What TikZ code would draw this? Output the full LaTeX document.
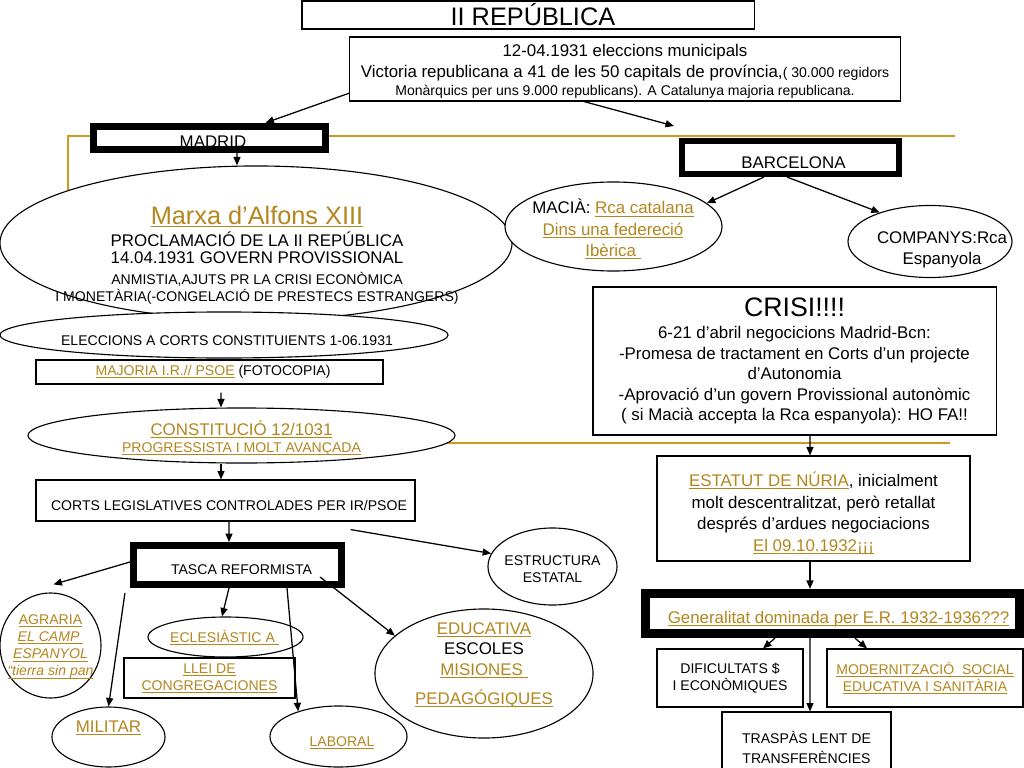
\documentclass[tikz,border=0pt]{standalone}
\usepackage{fontspec}
\setmainfont{Liberation Sans}
\usepackage{xcolor}
\usepackage{tikz}
\usetikzlibrary{shapes.geometric, arrows.meta, calc, backgrounds}

\definecolor{goldtext}{RGB}{180,134,30}
\definecolor{goldrule}{RGB}{206,156,28}
\newsavebox{\ulbox}
\newcommand{\gl}[1]{\textcolor{goldtext}{\sbox{\ulbox}{#1}\rlap{\rule[-1.8pt]{\wd\ulbox}{0.7pt}}\usebox{\ulbox}}}
\lineskiplimit=-1cm

\begin{document}
\begin{tikzpicture}[
    x=0.025cm, y=-0.025cm,
    box/.style={draw, rectangle, fill=white, line width=0.8pt, align=center, inner sep=0pt},
    thickbox/.style={box, line width=5pt},
    oval/.style={draw, ellipse, fill=white, line width=0.8pt, inner sep=0pt},
    txt/.style={align=center, inner sep=0pt},
    f10/.style={font=\fontsize{10}{12.1}\selectfont},
    f12/.style={font=\fontsize{12}{15}\selectfont},
    arrow/.style={line width=0.9pt, -{Triangle[length=6pt, width=5pt]}},
    goldline/.style={line width=1.8pt, draw=goldrule}
]
\useasboundingbox (0,0) rectangle (1024,768);
\clip (0,0) rectangle (1024,768);

% top
\node[box, minimum width=11.3cm, minimum height=0.7cm, font=\fontsize{18}{22}\selectfont] (republica) at (528,15) {\hspace*{7pt}II REPÚBLICA};
\node[box, minimum width=13.75cm, minimum height=1.6cm, font=\fontsize{12}{14.6}\selectfont] (municipals) at (625,69)
  {\rule{0pt}{12pt}12-04.1931 eleccions municipals\\
   Victoria republicana a 41 de les 50 capitals de província,{\fontsize{10}{12}\selectfont( 30.000 regidors}\\[-1.8pt]
   {\fontsize{10}{11}\selectfont Monàrquics per uns 9.000 republicans). A Catalunya majoria republicana.}};

% Madrid
\node[thickbox, minimum width=5.8cm, minimum height=0.575cm, line width=5.2pt] (madrid) at (209.5,138) {};
\node[txt, f12] (madrid_text) at (213,141.5) {MADRID};
\node[oval, minimum width=12.8cm, minimum height=3.85cm] (marxa) at (256,243) {};
\node[txt, font=\fontsize{12}{12.1}\selectfont] (marxa_text) at (257,255)
  {{\fontsize{18}{18}\selectfont\gl{Marxa d’Alfons XIII}}\\[3.5pt]
   PROCLAMACIÓ DE LA II REPÚBLICA\\
   14.04.1931 GOVERN PROVISSIONAL\\[2.8pt]
   {\fontsize{10}{12}\selectfont ANMISTIA,AJUTS PR LA CRISI ECONÒMICA}\\
   {\fontsize{10}{12}\selectfont I MONETÀRIA(-CONGELACIÓ DE PRESTECS ESTRANGERS)}};
\node[oval, minimum width=11.2cm, minimum height=1.15cm] (constituents) at (224,335) {};
\node[txt, f10] (constituents_text) at (227,341) {ELECCIONS A CORTS CONSTITUIENTS 1-06.1931};
\node[box, minimum width=8.675cm, minimum height=0.6cm, f10] (majoria) at (209.5,372) {\hspace*{5pt}\gl{MAJORIA I.R.// PSOE} (FOTOCOPIA)};
\node[oval, minimum width=10.675cm, minimum height=1.375cm] (constitucio) at (241.5,435.5) {};
\node[txt, f10] (constitucio_text) at (241.5,438)
  {{\fontsize{12}{12}\selectfont\gl{CONSTITUCIÓ 12/1031}}\\
   \gl{PROGRESSISTA I MOLT AVANÇADA}};
\node[box, minimum width=9.475cm, minimum height=1.025cm] (corts) at (225.5,500.5) {};
\node[txt, f10] (corts_text) at (229,505.5) {CORTS LEGISLATIVES CONTROLADES PER IR/PSOE};
\node[thickbox, minimum width=5.2cm, minimum height=0.975cm] (tasca) at (237.5,565) {};
\node[txt, f10] (tasca_text) at (241.5,570) {TASCA REFORMISTA};
\node[oval, minimum width=3.225cm, minimum height=1.925cm] (estructura) at (552.5,566.5) {};
\node[txt, f10] (estructura_text) at (552.5,569) {ESTRUCTURA\\ESTATAL};

% reformes
\node[oval, minimum width=2.525cm, minimum height=2.625cm] (agraria) at (50.5,645.5) {};
\node[txt, f10] (agraria_text) at (50.5,647)
  {\gl{AGRARIA}\\ \gl{\itshape EL CAMP }\\ \gl{\itshape ESPANYOL}\\ \gl{\itshape “tierra sin pan}};
\node[oval, minimum width=2.825cm, minimum height=1.5cm] (militar) at (108.5,737) {};
\node[txt, f12] (militar_text) at (108.5,728) {\gl{MILITAR}};
\node[oval, minimum width=3.875cm, minimum height=1cm] (eclesiastic) at (225.5,637) {};
\node[txt, f10] (eclesiastic_text) at (224.5,638) {\gl{ECLESIÀSTIC A\ }};
\node[box, minimum width=4.275cm, minimum height=1cm, f10] (llei) at (209.5,678) {\gl{LLEI DE}\\ \gl{CONGREGACIONES}};
\node[oval, minimum width=3.425cm, minimum height=1.525cm] (laboral) at (338.5,736.5) {};
\node[txt, f10] (laboral_text) at (342,743) {\gl{LABORAL}};
\node[oval, minimum width=5.45cm, minimum height=3.225cm] (educativa) at (484,673.5) {};
\node[txt, font=\fontsize{12}{14.5}\selectfont] (educativa_text) at (484,665)
  {\gl{EDUCATIVA}\\ ESCOLES\\ \gl{MISIONES\ }\\[6pt] \gl{PEDAGÓGIQUES}};

% Barcelona
\node[thickbox, minimum width=5.425cm, minimum height=0.825cm, line width=4.3pt] (barcelona) at (790.5,157.5) {};
\node[txt, f12] (barcelona_text) at (793.5,162.5) {BARCELONA};
\node[oval, minimum width=5.425cm, minimum height=2.225cm] (macia) at (613.5,226.5) {};
\node[txt, f12] (macia_text) at (613,229) {MACIÀ: \gl{Rca catalana}\\ \gl{Dins una federeció}\\ \gl{Ibèrica\ }};
\node[oval, minimum width=4.1cm, minimum height=1.8cm] (companys) at (930,241.5) {};
\node[txt, f12] (companys_text) at (942,250) {COMPANYS:Rca\\ Espanyola};
\node[box, minimum width=10.075cm, minimum height=3.7cm, font=\fontsize{12}{14.6}\selectfont] (crisi) at (794.5,361)
  {{\fontsize{19}{19}\selectfont CRISI!!!!}\\[1.5pt]
   6-21 d’abril negocicions Madrid-Bcn:\\
   -Promesa de tractament en Corts d’un projecte\\
   d’Autonomia\\
   -Aprovació d’un govern Provissional autonòmic\\
   ( si Macià accepta la Rca espanyola): HO FA!!};
\node[box, minimum width=7.825cm, minimum height=2.625cm, font=\fontsize{12}{15.3}\selectfont] (estatut) at (813.5,508.5)
  {\rule{0pt}{17pt}\gl{ESTATUT DE NÚRIA}, inicialment\\
   molt descentralitzat, però retallat\\
   després d’ardues negociacions\\
   \gl{El 09.10.1932¡¡¡}};
\node[thickbox, minimum width=9.35cm, minimum height=1cm, line width=6.6pt] (generalitat) at (832.5,613.5) {};
\node[txt, f12] (generalitat_text) at (838.5,619) {\gl{Generalitat dominada per E.R. 1932-1936???}};
\node[box, minimum width=3.65cm, minimum height=1.45cm, f10] (dificultats) at (730,678) {DIFICULTATS \$\\ I ECONÒMIQUES};
\node[box, minimum width=4.9cm, minimum height=1.45cm, f10] (modernitzacio) at (925,678) {\gl{MODERNITZACIÓ\ \ SOCIAL}\\ \gl{EDUCATIVA I SANITÀRIA}};
\node[box, minimum width=4.225cm, minimum height=1.75cm, font=\fontsize{10}{14.2}\selectfont] (traspas) at (806.5,747) {TRASPÀS LENT DE\\ TRANSFERÈNCIES};

% gold frame lines
\coordinate (gold_corner) at (68,136);
\coordinate (gold_end) at (955,136);
\coordinate (gold_end2) at (950,443);
\begin{pgfonlayer}{background}
  \draw[goldline] (gold_corner |- marxa.center) -- (gold_corner) -- (gold_end);
  \draw[goldline] (constitucio.center |- gold_end2) -- (gold_end2);
\end{pgfonlayer}

% arrows
\draw[arrow] (municipals.185) -- ($(madrid.north)+(56,0)$);
\draw[arrow] ($(municipals.south)+(-41,0)$) -- ($(barcelona.north west)+(-5,-12)$);
\draw[arrow] ($(madrid.south)+(27.5,0)$) -- ($(marxa.north)+(-19,0)$);
\draw[arrow] ($(barcelona.south)+(-26.5,0)$) -- (macia.14);
\draw[arrow] ($(barcelona.south)+(-3.5,0)$) -- (companys.150);
\draw[arrow] ($(crisi.south)+(15.5,0)$) -- ($(estatut.north)+(-3.5,0)$);
\draw[arrow] ($(estatut.south)+(-3.5,0)$) -- ($(generalitat.north)+(-22.5,0)$);
\draw[arrow] ($(generalitat.south)+(-57.5,0)$) -- ($(dificultats.north)+(33,0)$);
\draw[arrow] ($(generalitat.south)+(-22.5,0)$) -- ($(traspas.north)+(3.5,0)$);
\draw[arrow] ($(generalitat.south)+(22.5,0)$) -- ($(modernitzacio.north)+(-58,0)$);
\draw[arrow] ($(majoria.south)+(11.5,8)$) -- ($(constitucio.north)+(-20.5,0)$);
\draw[arrow] ($(constitucio.south)+(-20.5,0)$) -- ($(corts.north)+(-4.5,0)$);
\draw[arrow] ($(corts.south)+(3.5,0)$) -- ($(tasca.north)+(-8.5,0)$);
\draw[arrow] ($(corts.south east)+(-65,8)$) -- (estructura.168);
\draw[arrow] ($(tasca.west)+(0,-3)$) -- ($(agraria.north)+(3,-8)$);
\draw[arrow] ($(tasca.south west)+(-5,5)$) -- (militar.north);
\draw[arrow] ($(tasca.south)+(-8.5,0)$) -- ($(eclesiastic.north)+(-3.5,0)$);
\draw[arrow] ($(tasca.south)+(49.5,0)$) -- (laboral.148);
\draw[arrow] ($(tasca.east)+(-25,12)$) -- (educativa.157);
\end{tikzpicture}
\end{document}
